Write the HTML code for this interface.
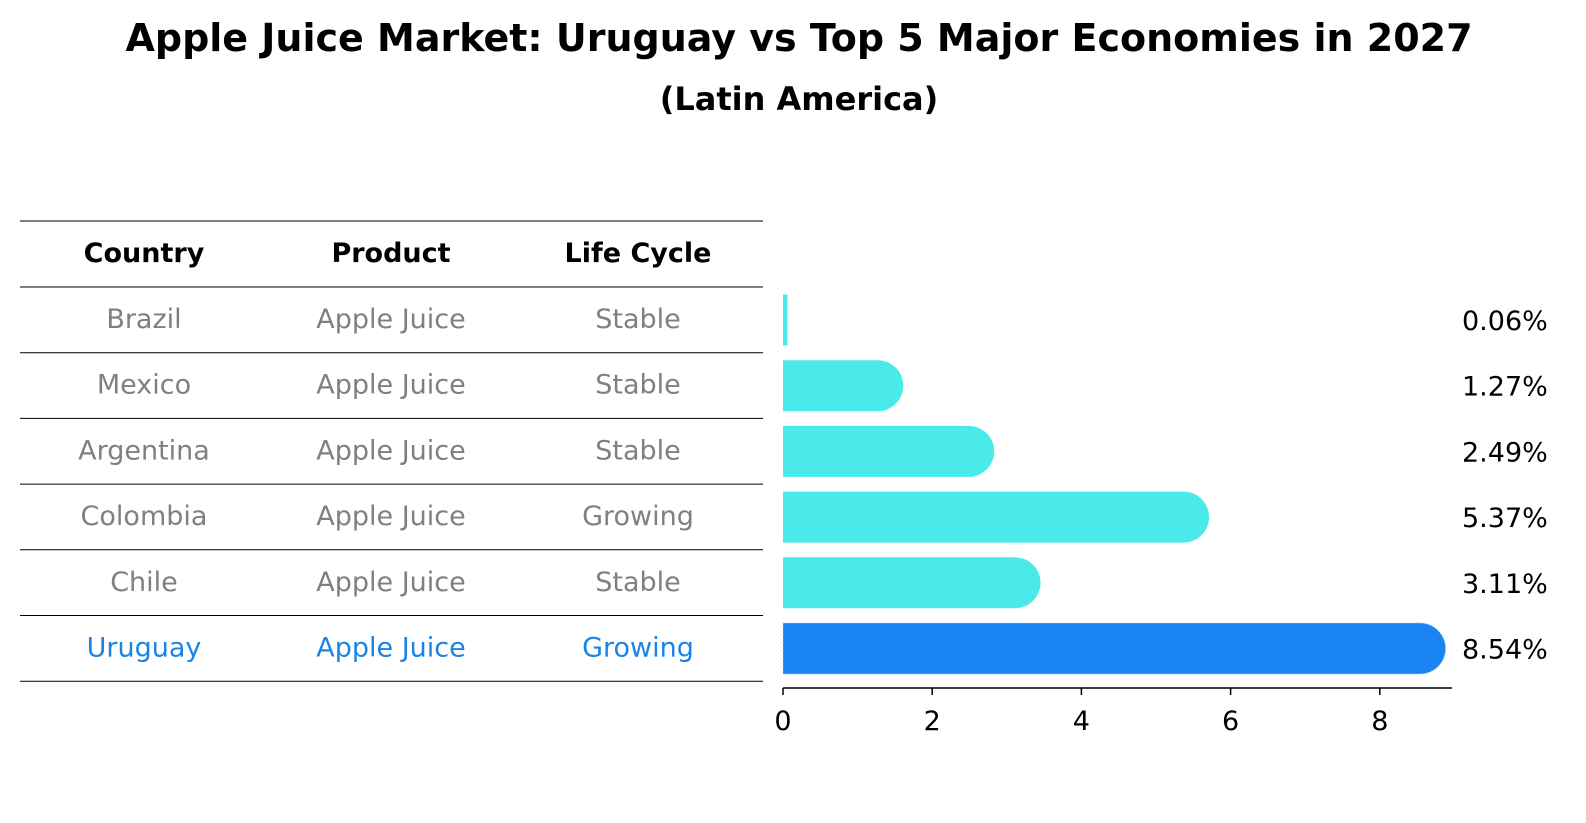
<!DOCTYPE html>
<html><head><meta charset="utf-8"><style>
body{margin:0;background:#fff;}
svg{display:block;font-family:"DejaVu Sans","Liberation Sans",sans-serif;}
</style></head><body>
<svg id="chart" width="1586" height="823" viewBox="0 0 1586 823">
<text x="799" y="51" text-anchor="middle" font-size="38" font-weight="bold">Apple Juice Market: Uruguay vs Top 5 Major Economies in 2027</text>
<text x="799" y="110" text-anchor="middle" font-size="32" font-weight="bold">(Latin America)</text>
<g id="table"></g>
<g id="bars"></g>
<g id="axis"></g>
</svg>
<script>
const countries=["Brazil","Mexico","Argentina","Colombia","Chile","Uruguay"];
const products=["Apple Juice","Apple Juice","Apple Juice","Apple Juice","Apple Juice","Apple Juice"];
const lifecycle=["Stable","Stable","Stable","Growing","Stable","Growing"];
const values=[0.06,1.27,2.49,5.37,3.11,8.54];
const ticks=[0,2,4,6,8];
const NS="http://www.w3.org/2000/svg";
const x0=783,pxPer=74.6;
const xs=v=>x0+v*pxPer;
const rowTop=i=>287+i*65.7;
function mk(tag,attrs,parent){const e=document.createElementNS(NS,tag);for(const k in attrs)e.setAttribute(k,attrs[k]);parent.appendChild(e);return e;}
const tbl=document.getElementById('table');
const colX=[144,391,638];
const hdr=["Country","Product","Life Cycle"];
hdr.forEach((h,j)=>{const t=mk('text',{x:colX[j],y:262,'text-anchor':'middle','font-size':27,'font-weight':'bold'},tbl);t.textContent=h;

});
const lines=[221,287];for(let i=1;i<=countries.length;i++)lines.push(rowTop(i));
lines.forEach(y=>{const l=mk('line',{x1:20,x2:763,y1:y,y2:y,stroke:'#000','stroke-width':1},tbl);

});
countries.forEach((c,i)=>{const col=i===countries.length-1?'#1a84e6':'#808080';
[c,products[i],lifecycle[i]].forEach((s,j)=>{const t=mk('text',{x:colX[j],y:rowTop(i)+41,'text-anchor':'middle','font-size':27,fill:col},tbl);t.textContent=s;

});});
const bars=document.getElementById('bars');
values.forEach((v,i)=>{const cy=rowTop(i)+33,h=51,top=cy-h/2;const w=xs(v)-x0;
const isU=i===values.length-1;const col=isU?'#1a84f2':'#4beaea';
const d=w>=h/2?`M${x0},${top} H${x0+w} A${h/2},${h/2} 0 0 1 ${x0+w},${top+h} H${x0} Z`:`M${x0},${top} H${x0+w} V${top+h} H${x0} Z`;
const p=mk('path',{d:d,fill:col},bars);
if(isU){p.setAttribute('stroke','#9cd0ff');p.setAttribute('stroke-dasharray','2,2');p.setAttribute('stroke-width','1');}


const t=mk('text',{x:1462,y:cy+10,'font-size':27},bars);t.textContent=v.toFixed(2)+'%';

});
const ax=document.getElementById('axis');
const al=mk('line',{x1:x0,x2:1452,y1:688,y2:688,stroke:'#000','stroke-width':1.5},ax);


ticks.forEach(tv=>{const tm=mk('line',{x1:xs(tv),x2:xs(tv),y1:688,y2:695,stroke:'#000','stroke-width':1.5},ax);


const t=mk('text',{x:xs(tv),y:730,'text-anchor':'middle','font-size':27},ax);t.textContent=tv;

});
</script>
</body></html>
